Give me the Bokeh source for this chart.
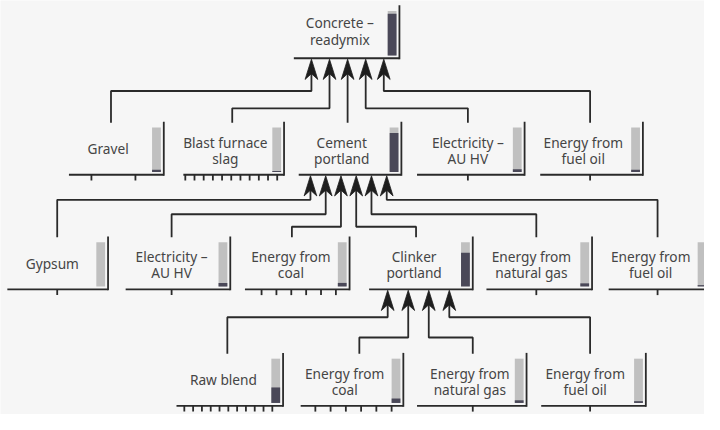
from bokeh.plotting import figure
from bokeh.models import Range1d
from bokeh.embed import file_html
from bokeh.resources import INLINE
from bokeh.core.properties import value
import numpy as np

# ---------------- data ----------------
node_ids = ["concrete", "gravel", "slag", "cement", "elec2", "oil2",
            "gypsum", "elec3", "coal3", "clinker", "gas3", "oil3",
            "raw", "coal4", "gas4", "oil4"]
node_labels = [["Concrete –", "readymix"], ["Gravel"], ["Blast furnace", "slag"],
               ["Cement", "portland"], ["Electricity –", "AU HV"], ["Energy from", "fuel oil"],
               ["Gypsum"], ["Electricity –", "AU HV"], ["Energy from", "coal"],
               ["Clinker", "portland"], ["Energy from", "natural gas"], ["Energy from", "fuel oil"],
               ["Raw blend"], ["Energy from", "coal"], ["Energy from", "natural gas"],
               ["Energy from", "fuel oil"]]
# share of the indicator bar that is filled (dark)
node_share = [0.94, 0.05, 0.02, 0.88, 0.06, 0.05,
              0.0, 0.08, 0.08, 0.76, 0.07, 0.03,
              0.35, 0.10, 0.06, 0.04]
node_ticks = [0, 2, 11, 0, 1, 1,
              1, 1, 6, 0, 1, 1,
              11, 6, 1, 1]
node_parent = [None, "concrete", "concrete", "concrete", "concrete", "concrete",
               "cement", "cement", "cement", "cement", "cement", "cement",
               "clinker", "clinker", "clinker", "clinker"]

# ---------------- layout (pixel positions of the drawing) ----------------
# left, right, bottom, text centre, link x, route y, first tick, last tick
layout = {
    "concrete": (300, 408, 60, 347, None, None, None, None),
    "gravel":   (70, 167, 181, 110, 113, 94, 93, 138),
    "slag":     (187, 290, 181, 230, 237, 112, 189, 283),
    "cement":   (305, 410, 181, 349, 356, None, None, None),
    "elec2":    (426, 536, 181, 478, 478, 112, None, None),
    "oil2":     (552, 657, 181, 596, 603, 94, None, None),
    "gypsum":   (7, 110, 300, 53, 58, 207, None, None),
    "elec3":    (128, 235, 300, 175, 175, 222, None, None),
    "coal3":    (250, 357, 300, 297, 298, 235, 267, 343),
    "clinker":  (377, 483, 300, 423, 425, 235, None, None),
    "gas3":     (497, 605, 300, 543, 548, 222, None, None),
    "oil3":     (622, 725, 300, 665, 672, 207, None, None),
    "raw":      (180, 289, 421, 228, 232, 329, 188, 278),
    "coal4":    (307, 412, 421, 352, 367, 350, 322, 400),
    "gas4":     (426, 538, 421, 480, 483, 350, None, None),
    "oil4":     (553, 660, 421, 598, 603, 329, None, None),
}
arrow_layout = {"concrete": (318, 18.5), "cement": (317, 15.6), "clinker": (396, 21.0)}

LINE = "#2a2a2a"
LIGHT = "#c0c0c0"
DARK = "#4a4858"
TXT = "#454545"
BG = "#f6f6f6"

p = figure(width=704, height=414, output_backend="svg", toolbar_location=None,
           x_range=Range1d(0, 720), y_range=Range1d(430, 0), min_border=0)
p.axis.visible = False
p.grid.visible = False
p.outline_line_color = None
p.background_fill_color = BG
p.border_fill_color = BG

# box edges (right + bottom), indicator bars, ticks, text
ex0, ey0, ex1, ey1 = [], [], [], []
gl, gr, gt, gb = [], [], [], []
dl, dr, dt, db = [], [], [], []
tx, ty, tt = [], [], []
for nid, lab, share, nt in zip(node_ids, node_labels, node_share, node_ticks):
    L, R, B, cx, lx, ry, tf, tl = layout[nid]
    ex0 += [L, R]; ey0 += [B, B - 55]; ex1 += [R, R]; ey1 += [B, B + 1]
    top, bot = B - 49, B - 3
    gl.append(R - 12); gr.append(R - 3); gt.append(top); gb.append(bot)
    if share > 0:
        dl.append(R - 12); dr.append(R - 3); db.append(bot); dt.append(bot - share * (bot - top))
    if nt == 1:
        xs = [lx]
    elif nt > 1:
        xs = list(np.linspace(tf, tl, nt))
    else:
        xs = []
    for x in xs:
        ex0.append(x); ex1.append(x); ey0.append(B); ey1.append(B + 6)
    if len(lab) == 2:
        ys = [B - 37, B - 19] if nid == "concrete" else [B - 34, B - 17]
    else:
        ys = [B - 27]
    for t, y in zip(lab, ys):
        tx.append(cx); ty.append(y); tt.append(t)

p.segment(x0=ex0, y0=ey0, x1=ex1, y1=ey1, line_color=LINE, line_width=1.8)
p.quad(left=gl, right=gr, top=gt, bottom=gb, fill_color=LIGHT, line_color=None)
p.quad(left=dl, right=dr, top=dt, bottom=db, fill_color=DARK, line_color=None)
p.text(x=tx, y=ty, text=tt, text_align="center", text_baseline="middle",
       text_font=value("Noto Sans"), text_font_size="13.7px", text_color=TXT)

# connections with arrowheads
counters = {}
lxs, lys = [], []
axs, ays = [], []
for nid, par in zip(node_ids, node_parent):
    if par is None:
        continue
    k = counters.get(par, 0)
    counters[par] = k + 1
    a0, step = arrow_layout[par]
    ax = a0 + k * step
    tip = layout[par][2] + 1
    L, R, B, cx, lx, ry, tf, tl = layout[nid]
    ctop = B - 54
    if ry is None:
        lxs.append([ax, ax]); lys.append([tip + 14, ctop])
    else:
        lxs.append([ax, ax, lx, lx]); lys.append([tip + 14, ry, ry, ctop])
    axs.append([ax, ax - 6.5, ax, ax + 6.5]); ays.append([tip, tip + 21, tip + 15, tip + 21])

p.multi_line(xs=lxs, ys=lys, line_color=LINE, line_width=1.8)
p.patches(xs=axs, ys=ays, fill_color="#1e1e1e", line_color="#1e1e1e", line_width=0.8)

open("out.html", "w").write(file_html(p, INLINE))
